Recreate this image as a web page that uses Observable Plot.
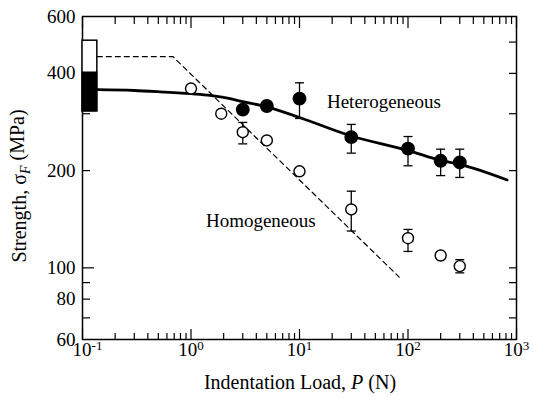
<!DOCTYPE html>
<html>
<head>
<meta charset="utf-8">
<script src="https://cdn.jsdelivr.net/npm/d3@7"></script>
<script src="https://cdn.jsdelivr.net/npm/@observablehq/plot@0.6"></script>
<style>
  html, body { margin: 0; padding: 0; background: #fff; }
  svg { display: block; }
</style>
</head>
<body>
<div id="chart"></div>
<script>
// ---- data ----
const hetP  = [3, 5, 10, 30, 100, 200, 300];
const hetS  = [309, 317, 334, 254, 234, 214.5, 212];
const hetLo = [null, null, 290, 226.5, 207, 193, 190.5];
const hetHi = [null, null, 374, 278, 255, 233, 233];

const homP  = [1, 1.9, 3, 5, 10, 30, 100, 200, 300];
const homS  = [359, 300, 263, 248, 199, 151.6, 123.5, 109.2, 101.2];
const homLo = [null, null, 242, null, null, 130, 112.4, null, 96.5];
const homHi = [null, null, 282, null, null, 172.7, 131.5, null, 106];

const fitP = [0.137, 0.3, 0.5, 1, 1.5, 2, 3, 5, 10, 30, 100, 200, 300, 820];
const fitS = [356, 354, 351, 346, 342, 337, 327, 315, 292, 256, 231, 215, 209, 187];

const dashP = [0.137, 0.68, 83];
const dashS = [451, 451, 93.6];

const boxP = [0.1, 0.137];
const boxOpenS = [305, 505];
const boxFillS = [305, 402.5];

const xMajor = [0.1, 1, 10, 100, 1000];
const xMinor = [0.1, 1, 10, 100].flatMap(d => [2,3,4,5,6,7,8,9].map(k => k * d));
const yLabels = [60, 80, 100, 200, 400, 600];
const yTicksLeft = [70, 80, 90, 200, 300, 400, 500];
const yTicksRight = [70, 80, 90, 100, 200, 300, 400, 500];
const textLabels = ["Heterogeneous", "Homogeneous"];
const textP = [60, 4.4];
const textS = [327, 140];

// ---- tables ----
const het = hetP.map((p, i) => ({p, s: hetS[i], lo: hetLo[i], hi: hetHi[i]}));
const hom = homP.map((p, i) => ({p, s: homS[i], lo: homLo[i], hi: homHi[i]}));
const hetErr = het.filter(d => d.lo != null);
const homErr = hom.filter(d => d.lo != null);
const fit = fitP.map((p, i) => ({p, s: fitS[i]}));
const dash = dashP.map((p, i) => ({p, s: dashS[i]}));
const labels = textLabels.map((t, i) => ({t, p: textP[i], s: textS[i]}));

const cap = {draw(ctx, size) { const w = 4.5; ctx.moveTo(-w, 0); ctx.lineTo(w, 0); }};
const capMarks = (data, key) => Plot.dot(data, {x: "p", y: key, symbol: cap, r: 3, stroke: "black", strokeWidth: 1.3, fill: "none"});

const FONT = "'Liberation Serif', 'Times New Roman', serif";
const tickOnly = {tickFormat: () => "", label: null, strokeWidth: 1.2};

const chart = Plot.plot({
  width: 534,
  height: 397,
  marginLeft: 82,
  marginRight: 18,
  marginTop: 16,
  marginBottom: 58,
  style: {fontFamily: FONT, fontSize: "19px", color: "black", background: "white"},
  x: {type: "log", domain: [0.1, 1000]},
  y: {type: "log", domain: [60, 600]},
  marks: [
    // ticks (inward)
    Plot.axisX({anchor: "bottom", ticks: xMinor, tickSize: 6, insetBottom: 6, ...tickOnly}),
    Plot.axisX({anchor: "bottom", ticks: xMajor, tickSize: 10, insetBottom: 10, ...tickOnly}),
    Plot.axisX({anchor: "top", ticks: xMinor, tickSize: 7, insetTop: 7, ...tickOnly}),
    Plot.axisX({anchor: "top", ticks: xMajor, tickSize: 11, insetTop: 11, ...tickOnly}),
    Plot.axisY({anchor: "left", ticks: yTicksLeft, tickSize: 8, insetLeft: 8, ...tickOnly}),
    Plot.axisY({anchor: "left", ticks: [100], tickSize: 12, insetLeft: 12, ...tickOnly}),
    Plot.axisY({anchor: "right", ticks: yTicksRight, tickSize: 8, insetRight: 8, ...tickOnly}),
    // tick labels
    Plot.axisX({anchor: "bottom", ticks: xMajor, tickSize: 0, tickPadding: 3, tickFormat: d => "e" + Math.round(Math.log10(d)), label: null}),
    Plot.axisY({anchor: "left", ticks: yLabels, tickSize: 0, tickPadding: 7, tickFormat: d => String(d), label: null}),
    Plot.frame({stroke: "black", strokeWidth: 1.5}),
    // unindented strength range box
    Plot.rect([{}], {x1: boxP[0], x2: boxP[1], y1: boxOpenS[0], y2: boxOpenS[1], fill: "white", stroke: "black", strokeWidth: 1.5}),
    Plot.rect([{}], {x1: boxP[0], x2: boxP[1], y1: boxFillS[0], y2: boxFillS[1], fill: "black", stroke: "black", strokeWidth: 1}),
    // lines
    Plot.line(dash, {x: "p", y: "s", stroke: "black", strokeWidth: 1.2, strokeDasharray: "5,4"}),
    Plot.line(fit, {x: "p", y: "s", stroke: "black", strokeWidth: 2.8, curve: "monotone-x"}),
    // error bars
    Plot.ruleX(hetErr, {x: "p", y1: "lo", y2: "hi", stroke: "black", strokeWidth: 1.3}),
    capMarks(hetErr, "lo"), capMarks(hetErr, "hi"),
    Plot.ruleX(homErr, {x: "p", y1: "lo", y2: "hi", stroke: "black", strokeWidth: 1.3}),
    capMarks(homErr, "lo"), capMarks(homErr, "hi"),
    // points
    Plot.dot(hom, {x: "p", y: "s", r: 5.5, fill: "white", stroke: "black", strokeWidth: 1.4}),
    Plot.dot(het, {x: "p", y: "s", r: 6.2, fill: "black", stroke: "black"}),
    // annotations
    Plot.text(labels, {x: "p", y: "s", text: "t", fontSize: 19, fill: "black", fontFamily: FONT})
  ]
});

document.getElementById("chart").appendChild(chart);

const svg = d3.select(chart);
// drop the empty texts of the tick-only axes
svg.selectAll("text").filter(function() { return this.textContent === ""; }).remove();
// superscript exponents on x tick labels
svg.selectAll("text").filter(function() { return /^e-?\d+$/.test(this.textContent); }).each(function() {
  const e = this.textContent.slice(1);
  const t = d3.select(this);
  t.text(null);
  if (e === "-1") t.attr("dx", 5);
  t.append("tspan").text("10");
  t.append("tspan").attr("dy", "-0.45em").attr("font-size", "13px").text(e);
});

// axis titles
const yt = svg.append("text")
  .attr("transform", "translate(26,186) rotate(-90)")
  .attr("text-anchor", "middle")
  .attr("font-family", FONT)
  .attr("font-size", "20px")
  .attr("fill", "black");
yt.append("tspan").text("Strength, σ");
yt.append("tspan").attr("font-size", "14px").attr("font-style", "italic").attr("dy", "0.3em").text("F");
yt.append("tspan").attr("dy", "-0.3em").text(" (MPa)");

const xt = svg.append("text")
  .attr("x", 300).attr("y", 389)
  .attr("text-anchor", "middle")
  .attr("font-family", FONT)
  .attr("font-size", "20px")
  .attr("fill", "black");
xt.append("tspan").text("Indentation Load, ");
xt.append("tspan").attr("font-style", "italic").text("P");
xt.append("tspan").text(" (N)");
</script>
</body>
</html>
